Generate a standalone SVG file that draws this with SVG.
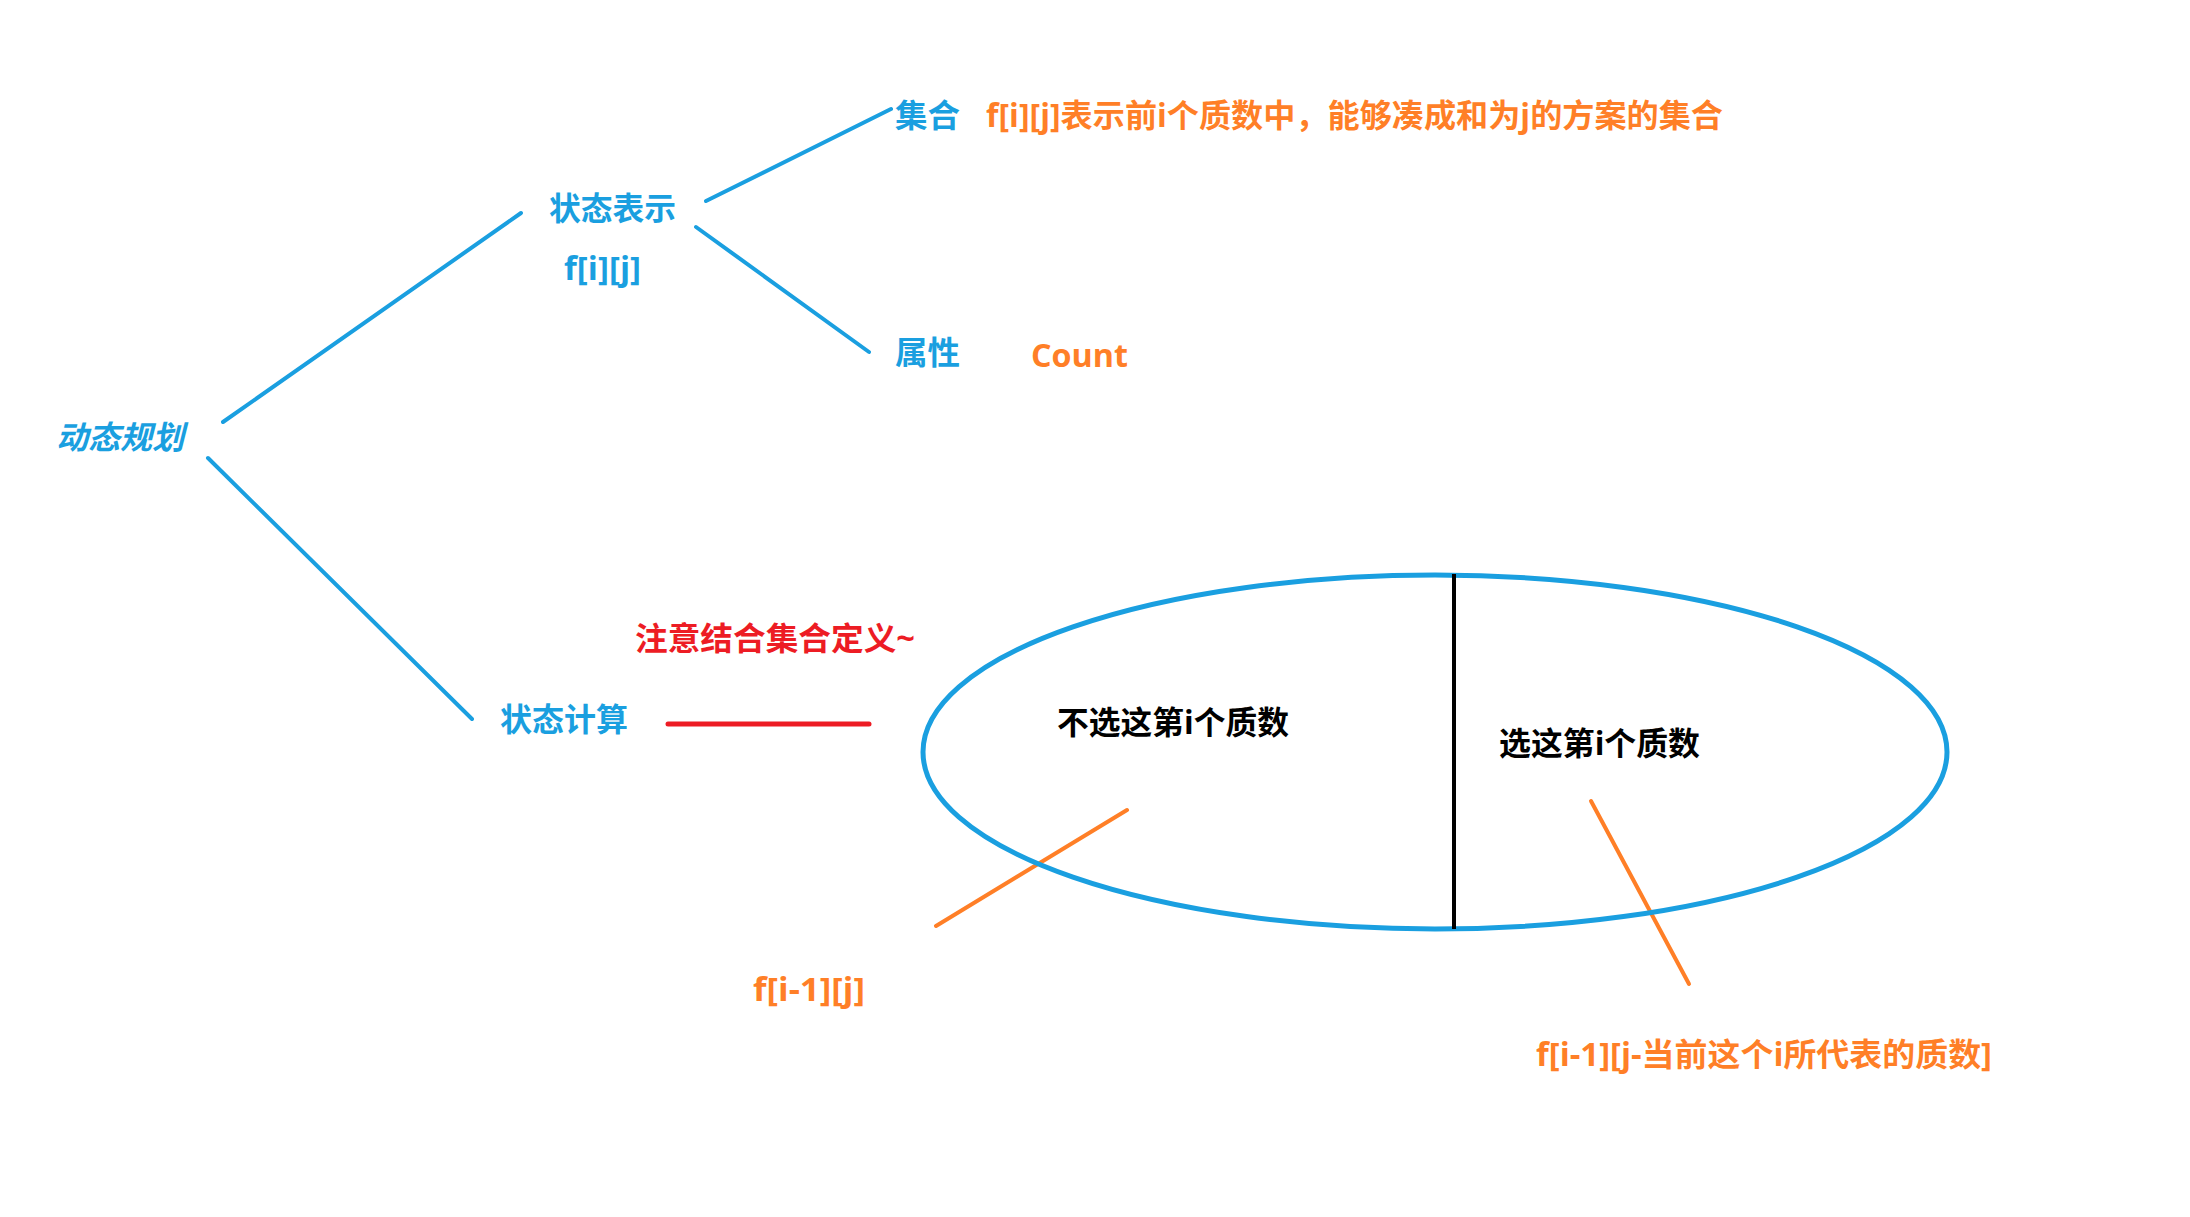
<svg xmlns="http://www.w3.org/2000/svg" width="2190" height="1217" viewBox="0 0 2190 1217">
<style>
text { font-family: "Open Sans", "Noto Sans CJK SC", sans-serif; font-weight: bold; font-size: 32px; }
.b { fill: #1a9fe0; }
.o { fill: #ff7f27; }
.r { fill: #ed1c24; }
.k { fill: #000000; }
.lb { stroke: #1a9fe0; stroke-width: 4; stroke-linecap: round; fill: none; }
.lo { stroke: #ff7f27; stroke-width: 4; stroke-linecap: round; fill: none; }
</style>
<rect width="2190" height="1217" fill="#ffffff"/>
<g id="connectors">
  <line class="lb" x1="223" y1="422" x2="521" y2="213"/>
  <line class="lb" x1="208" y1="458" x2="472" y2="719"/>
  <line class="lb" x1="706" y1="201" x2="891" y2="109"/>
  <line class="lb" x1="696" y1="227" x2="869" y2="352"/>
  <line x1="668" y1="724" x2="869" y2="724" stroke="#ed1c24" stroke-width="5" stroke-linecap="round"/>
  <line class="lo" x1="1127" y1="810" x2="936" y2="926"/>
  <line class="lo" x1="1591" y1="801" x2="1689" y2="984"/>
</g>
<g id="dp"><text class="b" x="56" y="449" font-style="italic" textLength="128" lengthAdjust="spacingAndGlyphs">动态规划</text></g>
<g id="state-rep">
  <text class="b" x="549" y="220" textLength="127" lengthAdjust="spacingAndGlyphs">状态表示</text>
  <text class="b" x="564" y="280" font-weight="600" textLength="77" lengthAdjust="spacingAndGlyphs">f[i][j]</text>
</g>
<g id="set">
  <text class="b" x="895" y="127" textLength="65" lengthAdjust="spacingAndGlyphs">集合</text>
  <text class="o" x="986" y="127" textLength="737" lengthAdjust="spacingAndGlyphs">f[i][j]表示前i个质数中，能够凑成和为j的方案的集合</text>
</g>
<g id="attr">
  <text class="b" x="895" y="364" textLength="65" lengthAdjust="spacingAndGlyphs">属性</text>
  <text class="o" x="1031" y="367" textLength="97" lengthAdjust="spacingAndGlyphs">Count</text>
</g>
<g id="note"><text class="r" x="635" y="650" textLength="280" lengthAdjust="spacingAndGlyphs">注意结合集合定义~</text></g>
<g id="state-calc"><text class="b" x="500" y="731" textLength="128" lengthAdjust="spacingAndGlyphs">状态计算</text></g>
<g id="ellipse">
  <ellipse cx="1435" cy="752" rx="512" ry="177" fill="none" stroke="#1a9fe0" stroke-width="5"/>
  <line x1="1454" y1="574" x2="1454" y2="929" stroke="#000" stroke-width="4"/>
  <text class="k" x="1057" y="734" textLength="232" lengthAdjust="spacingAndGlyphs">不选这第i个质数</text>
  <text class="k" x="1499" y="755" textLength="201" lengthAdjust="spacingAndGlyphs">选这第i个质数</text>
</g>
<g id="left-formula"><text class="o" x="753" y="1001" textLength="112" lengthAdjust="spacingAndGlyphs">f[i-1][j]</text></g>
<g id="right-formula"><text class="o" x="1536" y="1066" textLength="456" lengthAdjust="spacingAndGlyphs">f[i-1][j-当前这个i所代表的质数]</text></g>
</svg>
